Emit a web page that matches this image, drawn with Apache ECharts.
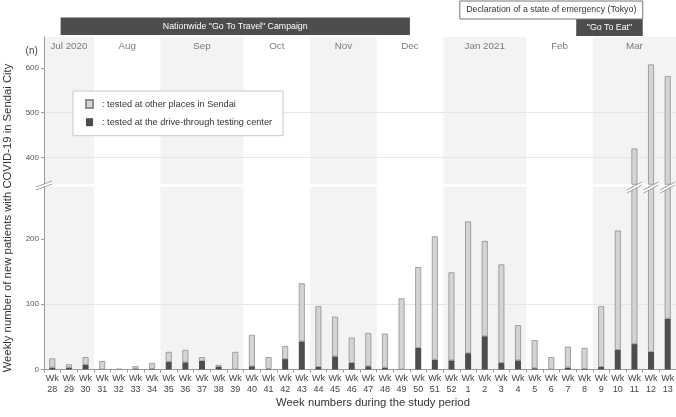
<!DOCTYPE html>
<html><head><meta charset="utf-8">
<script src="https://cdn.jsdelivr.net/npm/echarts@6/dist/echarts.min.js"></script>
<style>html,body{margin:0;padding:0;background:#fff}#c{width:676px;height:417px}</style>
</head><body><div id="c"></div>
<script>
// ---- data ----
const weeks = ['28','29','30','31','32','33','34','35','36','37','38','39','40','41','42','43','44','45','46','47','48','49','50','51','52','1','2','3','4','5','6','7','8','9','10','11','12','13'];
const driveThrough = [3,3,7,0,0,1,1,12,11,13,4,0,5,1,16,43,4,20,10,5,3,0,33,15,14,25,51,10,14,2,0,3,1,4,30,39,27,78];
const otherPlaces  = [14,5,12,13,1,4,9,15,19,6,3,27,48,18,20,89,93,61,39,51,52,109,124,189,135,202,146,151,54,43,19,32,32,93,183,381,581,504];
const months = ['Jul 2020','Aug','Sep','Oct','Nov','Dec','Jan 2021','Feb','Mar'];
const monthWeekCounts = [3,4,5,4,4,4,5,4,5];
const lowerTicks = [0,100,200];
const upperTicks = [400,500,600];
const legendLabels = {other: ': tested at other places in Sendai', drive: ': tested at the drive-through testing center'};
const brokenWeeks = ['11','12','13'];

const FONT = '"Liberation Sans", Arial, sans-serif';
const monthStarts = [];
{ let s = 0; monthWeekCounts.forEach(c => { monthStarts.push(s); s += c; }); }
const shadedRanges = [];
monthStarts.forEach((s, k) => { if (k % 2 === 0) shadedRanges.push([{xAxis: s - 0.5}, {xAxis: s + monthWeekCounts[k] - 0.5}]); });

const chart = echarts.init(document.getElementById('c'), null, {renderer: 'canvas'});

const minor = '#e6e6e6', major = '#cfcfcf';

function yAxisCfg(grid, min, max, ticks, colors) {
  return {
    type: 'value', gridIndex: grid, min: min, max: max, interval: 20, z: 1,
    axisLine: {show: true, onZero: false, lineStyle: {color: '#9a9a9a', width: 1}},
    axisTick: {show: true, customValues: ticks, length: 3, lineStyle: {color: '#9a9a9a'}},
    axisLabel: {customValues: ticks, formatter: v => (v % 100 === 0 ? String(v) : ''), fontSize: 8, color: '#555', margin: 5, fontFamily: FONT},
    splitLine: {show: true, showMaxLine: false, lineStyle: {color: colors, width: 1}}
  };
}

function barSeries(xi, yi, stack) {
  return [
    {name: 'drive', type: 'bar', xAxisIndex: xi, yAxisIndex: yi, stack: stack, data: driveThrough, barWidth: 6, z: 3,
     itemStyle: {color: '#4d4d4d'}, emphasis: {disabled: true}},
    {name: 'other', type: 'bar', xAxisIndex: xi, yAxisIndex: yi, stack: stack, data: otherPlaces, barWidth: 6, z: 3,
     itemStyle: {color: '#d4d4d4', borderColor: '#8f8f8f', borderWidth: 0.8}, emphasis: {disabled: true}}
  ];
}
function shadeSeries(xi, yi) {
  return {type: 'line', xAxisIndex: xi, yAxisIndex: yi, data: [], silent: true, z: 0,
    markArea: {silent: true, z: 0, itemStyle: {color: '#f3f3f3'}, label: {show: false}, data: shadedRanges}};
}
function hiddenValueX(grid) {
  return {type: 'value', gridIndex: grid, min: -0.5, max: weeks.length - 0.5, show: false};
}

chart.setOption({
  animation: false,
  textStyle: {fontFamily: FONT},
  grid: [
    {left: 44, right: 0, top: 36.7, height: 147.6, outerBoundsMode: 'none', containLabel: false},
    {left: 44, right: 0, top: 186.8, height: 182.7, outerBoundsMode: 'none', containLabel: false}
  ],
  xAxis: [
    {type: 'category', gridIndex: 0, data: weeks, axisLine: {show: false}, axisTick: {show: false}, axisLabel: {show: false},
     splitLine: {show: false}, z: 0},
    {type: 'category', gridIndex: 1, data: weeks, z: 2,
     axisLine: {show: true, onZero: false, lineStyle: {color: '#9a9a9a'}},
     axisTick: {show: true, interval: 0, length: 3, lineStyle: {color: '#9a9a9a'}},
     axisLabel: {interval: 0, formatter: v => 'Wk\n' + v, fontSize: 9, lineHeight: 10.5, color: '#444', margin: 4, fontFamily: FONT},
     splitLine: {show: false}},
    hiddenValueX(0),
    hiddenValueX(1)
  ],
  yAxis: [
    yAxisCfg(0, 340, 670, upperTicks, [minor, minor, minor, major, minor]),
    yAxisCfg(1, 0, 280, lowerTicks, [major, minor, minor, minor, minor])
  ],
  legend: {
    data: ['other', 'drive'], formatter: n => legendLabels[n], selectedMode: false,
    orient: 'vertical', left: 73, top: 91, icon: 'rect', itemWidth: 7, itemHeight: 8, itemGap: 8.7,
    backgroundColor: '#fff', borderColor: '#c8c8c8', borderWidth: 1, padding: [8, 11, 9, 12],
    textStyle: {fontSize: 9.2, color: '#333', fontFamily: FONT, padding: [0, 0, 0, 4]}
  },
  series: [shadeSeries(2, 0), shadeSeries(3, 1)].concat(barSeries(0, 0, 'hi'), barSeries(1, 1, 'lo'))
});

// ---- annotations derived from the axes ----
const px = i => chart.convertToPixel({xAxisIndex: 1}, i);
const band = px(1) - px(0);
const left = i => px(i) - band / 2, right = i => px(i) + band / 2;
const idxOf = w => weeks.indexOf(w);
const g = [];

months.forEach((m, k) => {
  const a = monthStarts[k], b = a + monthWeekCounts[k] - 1;
  g.push({type: 'text', x: (left(a) + right(b)) / 2, y: 46, z: 10,
    style: {text: m, fontSize: 9.8, fill: '#7a7a7a', fontFamily: FONT, align: 'center', verticalAlign: 'middle'}});
});
function banner(a, b, y, h, txt, dark) {
  const x0 = left(idxOf(a)), x1 = right(idxOf(b));
  g.push({type: 'rect', z: 10, shape: {x: x0, y: y, width: x1 - x0, height: h},
    style: dark ? {fill: '#4d4d4d'} : {fill: '#fff', stroke: '#777', lineWidth: 1}});
  g.push({type: 'text', z: 11, x: (x0 + x1) / 2, y: y + h / 2,
    style: {text: txt, fontSize: 8.8, fill: dark ? '#fff' : '#333', fontFamily: FONT, align: 'center', verticalAlign: 'middle'}});
}
banner('29', '49', 17.5, 17.5, 'Nationwide "Go To Travel" Campaign', true);
banner('1', '11', 1, 18, 'Declaration of a state of emergency (Tokyo)', false);
banner('8', '11', 19.3, 16.7, '"Go To Eat"', true);

function breakMark(cx, cy, hw, rise) {
  const gap = 3;
  g.push({type: 'polygon', z: 12, shape: {points: [[cx - hw, cy + rise / 2], [cx + hw, cy - rise / 2], [cx + hw, cy - rise / 2 + gap], [cx - hw, cy + rise / 2 + gap]]},
    style: {fill: '#fff'}});
  g.push({type: 'line', z: 13, shape: {x1: cx - hw, y1: cy + rise / 2, x2: cx + hw, y2: cy - rise / 2}, style: {stroke: '#888', lineWidth: 0.8}});
  g.push({type: 'line', z: 13, shape: {x1: cx - hw, y1: cy + rise / 2 + gap, x2: cx + hw, y2: cy - rise / 2 + gap}, style: {stroke: '#888', lineWidth: 0.8}});
}
breakMark(44, 184, 8, 6);
brokenWeeks.forEach(w => breakMark(px(idxOf(w)), 186, 7.5, 8));

g.push({type: 'text', z: 10, x: 31.7, y: 51.7, style: {text: '(n)', fontSize: 10, fill: '#444', fontFamily: FONT, align: 'center', verticalAlign: 'middle'}});
g.push({type: 'text', z: 10, x: 8, y: 218, rotation: Math.PI / 2,
  style: {text: 'Weekly number of new patients with COVID-19 in Sendai City', fontSize: 11.3, fill: '#333', fontFamily: FONT, align: 'center', verticalAlign: 'middle'}});
g.push({type: 'text', z: 10, x: 373, y: 403,
  style: {text: 'Week numbers during the study period', fontSize: 11.3, fill: '#333', fontFamily: FONT, align: 'center', verticalAlign: 'middle'}});

chart.setOption({graphic: g});
</script>
</body></html>
